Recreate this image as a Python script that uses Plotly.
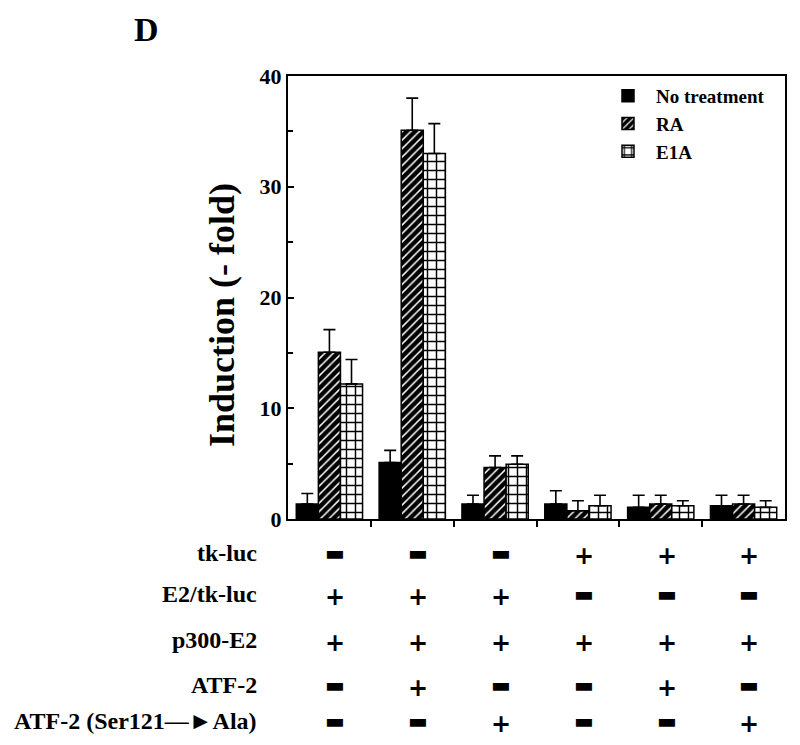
import plotly.graph_objects as go

# ---- data ----
groups = [0, 1, 2, 3, 4, 5]
series_names = ["No treatment", "RA", "E1A"]
no_treatment = [1.35, 5.1, 1.35, 1.35, 1.05, 1.2]
no_treatment_err = [0.95, 1.1, 0.8, 1.2, 1.1, 0.95]
ra = [15.05, 35.1, 4.65, 0.75, 1.35, 1.35]
ra_err = [2.05, 2.9, 1.05, 0.9, 0.8, 0.8]
e1a = [12.2, 33.0, 4.95, 1.2, 1.2, 1.05]
e1a_err = [2.2, 2.7, 0.75, 0.95, 0.45, 0.6]

row_labels = ["tk-luc", "E2/tk-luc", "p300-E2", "ATF-2", "ATF-2 (Ser121\u2014\u25BAAla)"]
tk_luc = ["-", "-", "-", "+", "+", "+"]
e2_tk_luc = ["+", "+", "+", "-", "-", "-"]
p300_e2 = ["+", "+", "+", "+", "+", "+"]
atf2 = ["-", "+", "-", "-", "+", "-"]
atf2_mut = ["-", "-", "+", "-", "-", "+"]
table_rows = [tk_luc, e2_tk_luc, p300_e2, atf2, atf2_mut]

y_ticks = [0, 10, 20, 30, 40]

# ---- layout constants (reference pixel coords; page body adds an 8px offset) ----
OFF = 8
W, H = 800, 745
PL, PR, PT, PB = 288, 785, 76, 519          # plot box in screen pixels
L, T = PL - OFF, PT - OFF
R, B = W - (PR - OFF), H - (PB - OFF)
plot_w, plot_h = PR - PL, PB - PT
SERIF = "Liberation Serif"

def py(px):  # screen pixel y -> paper y
    return (PB - px) / plot_h

def pxp(px):  # screen pixel x -> paper x
    return (px - PL) / plot_w

fig = go.Figure()
line = dict(color="black", width=1.5)
err_style = dict(type="data", symmetric=False, color="black", thickness=1.6, width=6)

fig.add_trace(go.Bar(
    x=groups, y=no_treatment, name=series_names[0],
    marker=dict(color="black", line=line),
    error_y=dict(array=no_treatment_err, arrayminus=[0] * len(groups), **err_style),
))
fig.add_trace(go.Bar(
    x=groups, y=ra, name=series_names[1],
    marker=dict(color="black", line=line,
                pattern=dict(shape="/", bgcolor="black", fgcolor="white",
                             size=6, solidity=0.25, fillmode="replace")),
    error_y=dict(array=ra_err, arrayminus=[0] * len(groups), **err_style),
))
fig.add_trace(go.Bar(
    x=groups, y=e1a, name=series_names[2],
    marker=dict(color="white", line=line,
                pattern=dict(shape="+", bgcolor="white", fgcolor="black",
                             size=9, solidity=0.3, fillmode="replace")),
    error_y=dict(array=e1a_err, arrayminus=[0] * len(groups), **err_style),
))

annotations = []
# panel letter
annotations.append(dict(text="<b>D</b>", xref="paper", yref="paper",
                        x=pxp(146), y=py(9), xanchor="center", yanchor="top",
                        showarrow=False,
                        font=dict(family=SERIF, size=34, color="black")))
# y-axis title
annotations.append(dict(text="<b>Induction (- fold)</b>", xref="paper", yref="paper",
                        x=pxp(222), y=py(315), xanchor="center", yanchor="middle",
                        textangle=-90, showarrow=False,
                        font=dict(family=SERIF, size=36, color="black")))
# table
row_px = [553, 594, 640, 685, 721]
for r, (lab, vals) in enumerate(zip(row_labels, table_rows)):
    annotations.append(dict(text=f"<b>{lab}</b>", xref="paper", yref="paper",
                            x=pxp(259), y=py(row_px[r]), xanchor="right",
                            yanchor="middle", showarrow=False,
                            font=dict(family=SERIF, size=24, color="black")))
    for g, v in zip(groups, vals):
        if v == "+":
            annotations.append(dict(text="<b>+</b>", xref="x", yref="paper",
                                    x=g + 0.07, y=py(row_px[r] + 3), xanchor="center",
                                    yanchor="middle", showarrow=False,
                                    font=dict(family="DejaVu Sans", size=24, color="black")))
        else:
            annotations.append(dict(text="\u25AC", xref="x", yref="paper",
                                    x=g + 0.07, y=py(row_px[r]), xanchor="center",
                                    yanchor="middle", showarrow=False,
                                    font=dict(family="DejaVu Sans", size=21, color="black")))

fig.update_layout(
    width=W, height=H,
    margin=dict(l=L, r=R, t=T, b=B),
    paper_bgcolor="white", plot_bgcolor="white",
    barmode="group", bargap=0.2, bargroupgap=0,
    font=dict(family=SERIF, color="black"),
    showlegend=True,
    legend=dict(x=pxp(600), y=py(77), xanchor="left", yanchor="top",
                bgcolor="rgba(0,0,0,0)", itemwidth=46, traceorder="normal",
                font=dict(family=SERIF, size=19, color="black", weight="bold")),
    annotations=annotations,
)
fig.update_xaxes(range=[-0.5, 5.5], tickvals=[0.5, 1.5, 2.5, 3.5, 4.5],
                 showticklabels=False, ticks="outside", ticklen=6, tickwidth=2,
                 tickcolor="black", showline=True, linecolor="black", linewidth=2,
                 mirror=True, showgrid=False, zeroline=False)
fig.update_yaxes(range=[0, 40], tickvals=y_ticks, ticks="inside", ticklen=6,
                 tickwidth=2, tickcolor="black", showline=True, linecolor="black",
                 linewidth=2, mirror=True, showgrid=False, zeroline=False,
                 tickfont=dict(family=SERIF, size=22, color="black", weight="bold"),
                 minor=dict(dtick=5, ticks="inside", ticklen=5, tickwidth=2,
                            tickcolor="black", showgrid=False))

fig.write_html("out.html")
